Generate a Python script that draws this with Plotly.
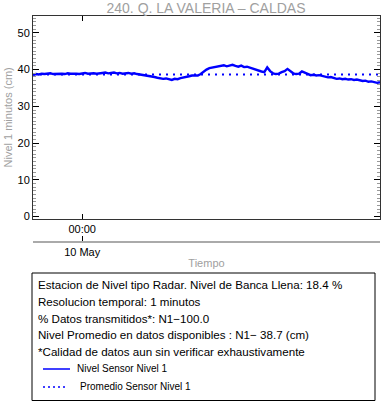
import pandas as pd
import plotly.graph_objects as go

# ---------------- data ----------------
start_time = "2023-05-09 20:36"
step = "12min"
nivel = [
    38.6, 38.8, 38.7, 38.9, 38.8, 38.9, 39.0, 38.8, 38.9, 39.0, 38.9, 38.8,
    39.0, 38.9, 39.0, 38.9, 38.8, 39.0, 39.1, 38.9, 39.0, 39.0, 38.9, 39.1,
    39.1, 39.2, 39.0, 39.1, 39.2, 39.0, 39.1, 38.9, 39.0, 39.1, 38.9, 39.0,
    38.8, 38.7, 38.6, 38.5, 38.3,
    38.2, 38.0, 37.8, 37.6, 37.5, 37.6, 37.4, 37.2,
    37.5, 37.4, 37.7, 37.8, 38.0, 38.2, 38.4, 38.5,
    38.4, 38.8, 39.5,
    40.0, 40.4, 40.6, 40.7, 40.9,
    41.0, 41.2, 40.9, 41.1, 41.3, 41.0, 40.8, 41.1,
    40.7, 40.8, 40.5, 40.4, 40.1,
    39.8, 39.5, 39.3,
    40.6, 39.6,
    39.0, 38.8, 38.9,
    39.3, 39.6, 40.2, 39.7,
    39.0, 38.8, 38.9,
    39.5, 39.2,
    38.7, 38.5, 38.6, 38.4, 38.5, 38.3,
    38.1, 37.9, 38.0, 37.7,
    37.5, 37.6, 37.4, 37.5, 37.3, 37.4,
    37.2, 37.3, 37.0, 36.9, 37.0,
    36.7, 36.8, 36.5, 36.4, 36.6,
]
mean_level = 38.7
y_ticks = [0, 10, 20, 30, 40, 50]
x_tick_time = "2023-05-10 00:00"
x_tick_hour = "00:00"
x_tick_day = "10 May"
title_text = "240. Q. LA VALERIA \u2013 CALDAS"
info_lines = [
    "Estacion de Nivel tipo Radar. Nivel de Banca Llena: 18.4 %",
    "Resolucion temporal: 1 minutos",
    "% Datos transmitidos*: N1\u2212100.0",
    "Nivel Promedio en datos disponibles : N1\u2212 38.7 (cm)",
    "*Calidad de datos aun sin verificar exhaustivamente",
]
legend_names = ["Nivel Sensor Nivel 1", "Promedio Sensor Nivel 1"]

times = pd.date_range(start_time, periods=len(nivel), freq=step)
t0, t1 = times[0], times[-1]

# ---------------- geometry helpers ----------------
W, H = 382, 404
ML, MR, MT, MB = 33, 2, 16, 2
PW, PH = W - ML - MR, H - MT - MB
def fx(px):
    return (px - ML) / PW
def fy(py):
    return (H - MB - py) / PH

FONT = "Liberation Sans, Arial, Helvetica, sans-serif"
BLUE = "#0000ff"
GRAY = "#a0a0a0"

fig = go.Figure()
fig.add_trace(go.Scatter(x=times, y=nivel, mode="lines",
                         line=dict(color=BLUE, width=2.4),
                         name=legend_names[0], showlegend=False))
fig.add_trace(go.Scatter(x=[t0, t1], y=[mean_level, mean_level], mode="lines",
                         line=dict(color=BLUE, width=2, dash="2px,5px"),
                         name=legend_names[1], showlegend=False))
# invisible trace so xaxis2 renders
fig.add_trace(go.Scatter(x=[t0], y=[None], xaxis="x2", showlegend=False,
                         hoverinfo="skip"))

fig.update_layout(
    width=W, height=H,
    margin=dict(l=ML, r=MR, t=MT, b=MB, autoexpand=False),
    paper_bgcolor="white", plot_bgcolor="white",
    font=dict(family=FONT, size=11, color="black"),
    title=dict(text=title_text, x=fx(206), xref="paper", xanchor="center",
               y=1 - 8 / H, yref="container", yanchor="middle",
               font=dict(size=14, color=GRAY), automargin=False),
    xaxis=dict(range=[t0, t1], tickvals=[x_tick_time], ticktext=[x_tick_hour],
               ticks="inside", ticklen=5, tickcolor="black", automargin=False,
               showline=True, linecolor="#333", linewidth=1, mirror="ticks",
               showgrid=False, zeroline=False, tickfont=dict(size=11)),
    xaxis2=dict(range=[t0, t1], overlaying="x", anchor="free", position=fy(242),
                side="bottom", tickvals=[x_tick_time], ticktext=[x_tick_day],
                ticks="inside", ticklen=5, tickcolor="black", automargin=False,
                showline=True, linecolor="#aaaaaa", linewidth=2,
                showgrid=False, zeroline=False, tickfont=dict(size=11),
                title=dict(text="Tiempo", font=dict(size=11, color=GRAY), standoff=1)),
    yaxis=dict(range=[-0.65, 54.6], domain=[fy(219), 1], tickvals=y_ticks,
               ticks="inside", ticklen=6, tickcolor="black", automargin=False,
               minor=dict(dtick=1, tick0=0, ticks="inside", ticklen=3, tickcolor="#999"),
               showline=True, linecolor="#333", linewidth=1, mirror="ticks",
               showgrid=False, zeroline=False, tickfont=dict(size=11)),
)

anns = [dict(text="Nivel 1 minutos (cm)", x=fx(7), y=fy(117.5), xref="paper",
             yref="paper", textangle=-90, showarrow=False, xanchor="center",
             yanchor="middle", font=dict(size=11, color=GRAY))]
line_ys = [284, 301, 318, 334, 351]
for txt, py in zip(info_lines, line_ys):
    anns.append(dict(text=txt, x=fx(36), y=fy(py), xref="paper", yref="paper",
                     showarrow=False, xanchor="left", yanchor="middle",
                     font=dict(size=11.6, color="black")))
anns.append(dict(text=legend_names[0], x=fx(75), y=fy(368), xref="paper", yref="paper",
                 showarrow=False, xanchor="left", yanchor="middle",
                 font=dict(size=10, color="black")))
anns.append(dict(text=legend_names[1], x=fx(78), y=fy(386), xref="paper", yref="paper",
                 showarrow=False, xanchor="left", yanchor="middle",
                 font=dict(size=10, color="black")))
fig.update_layout(annotations=anns)

shapes = [
    dict(type="rect", xref="paper", yref="paper", x0=fx(32), x1=fx(375),
         y0=fy(400.5), y1=fy(273), line=dict(color="black", width=1)),
    dict(type="line", xref="paper", yref="paper", x0=fx(43), x1=fx(70),
         y0=fy(369), y1=fy(369), line=dict(color=BLUE, width=1.5)),
    dict(type="line", xref="paper", yref="paper", x0=fx(43), x1=fx(68),
         y0=fy(387), y1=fy(387), line=dict(color=BLUE, width=1.5, dash="2px,3px")),
]
fig.update_layout(shapes=shapes)

fig.write_html("out.html", config={"displayModeBar": False},
               post_script="document.body.style.margin='0';document.body.style.overflow='hidden';")
